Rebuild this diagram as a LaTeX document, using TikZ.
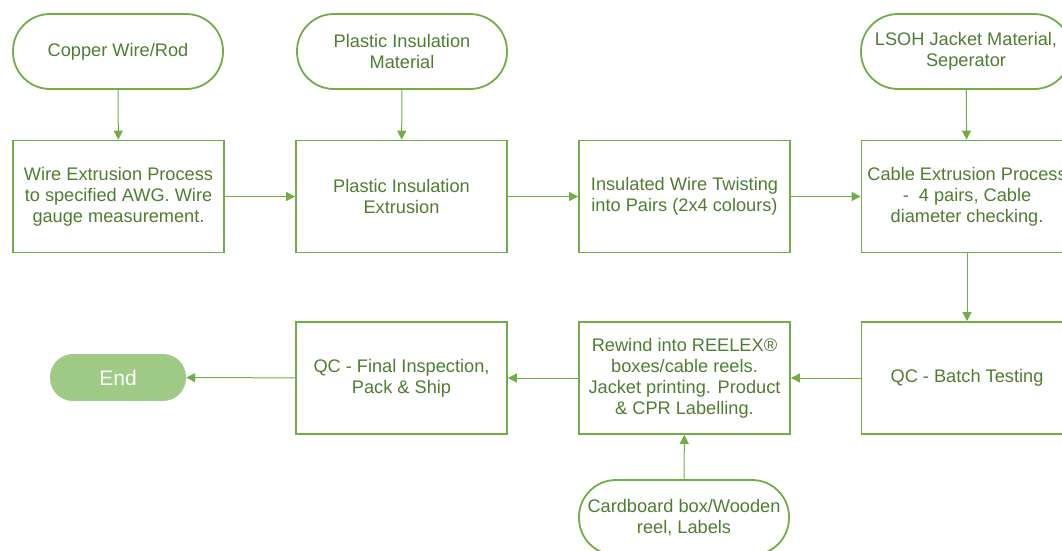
\documentclass[tikz,border=0pt]{standalone}
\usepackage{fontspec}
\setmainfont{Liberation Sans}
\usetikzlibrary{arrows.meta}
\definecolor{lgreen}{HTML}{70AD47}
\definecolor{tgreen}{HTML}{4E7D32}
\definecolor{endfill}{HTML}{9ECA85}
\tikzset{
  every node/.style={font=\fontsize{18.2}{21}\selectfont, text=tgreen, align=center, inner sep=0pt},
  procbox/.style={draw=lgreen, line width=1.8pt, minimum width=211pt, minimum height=112pt},
  termbox/.style={draw=lgreen, line width=1.8pt, rounded corners=37pt, minimum width=210pt, minimum height=75pt},
  endbox/.style={fill=endfill, rounded corners=23pt, minimum width=136pt, minimum height=47pt, text=white, font=\fontsize{21}{24}\selectfont},
  conn/.style={draw=lgreen, line width=1pt, -{Triangle[length=9pt,width=9pt]}}
}
\begin{document}
\begin{tikzpicture}[x=1pt,y=-1pt]
\useasboundingbox (0,0) rectangle (1062,550);
% top terminals
\node[termbox] (cu) at (118,51.5) {Copper Wire/Rod};
\node[termbox] (pim) at (402,51.5) {Plastic Insulation\\Material};
\node[termbox] (lsoh) at (966,51.5) {LSOH Jacket Material,\\Seperator};
% row 2
\node[procbox] (wep) at (118.5,196.5) {Wire Extrusion Process\\to specified AWG. Wire\\gauge measurement.};
\node[procbox] (pie) at (401.5,196.5) {Plastic Insulation\\Extrusion};
\node[procbox] (iwt) at (684.5,196.5) {Insulated Wire Twisting\\into Pairs (2x4 colours)};
\node[procbox] (cep) at (967,196.5) {Cable Extrusion Process\\ -\ \ 4 pairs, Cable\\diameter checking.};
% row 3
\node[procbox] (qcb) at (967,378) {QC - Batch Testing};
\node[procbox] (rew) at (684.5,378) {Rewind into REELEX\textregistered\\boxes/cable reels.\\Jacket printing. Product\\\& CPR Labelling.};
\node[procbox] (qcf) at (401.5,378) {QC - Final Inspection,\\Pack \& Ship};
\node[endbox] (end) at (118,377.5) {End};
\node[termbox] (card) at (684,517.5) {Cardboard box/Wooden\\reel, Labels};
% connectors
\draw[conn] (cu) -- (wep);
\draw[conn] (pim) -- (pie);
\draw[conn] (lsoh) -- (cep);
\draw[conn] (wep) -- (pie);
\draw[conn] (pie) -- (iwt);
\draw[conn] (iwt) -- (cep);
\draw[conn] (cep) -- (qcb);
\draw[conn] (qcb) -- (rew);
\draw[conn] (rew) -- (qcf);
\draw[conn] (qcf) -- (end);
\draw[conn] (card) -- (rew);
\end{tikzpicture}
\end{document}
